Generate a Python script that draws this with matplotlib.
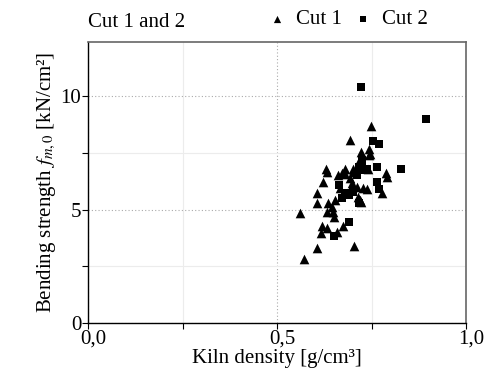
import matplotlib

matplotlib.use("Agg")
import matplotlib.pyplot as plt
import matplotlib.transforms as mtransforms
from matplotlib.ticker import FixedLocator

plt.rcParams["font.family"] = ["Liberation Serif", "DejaVu Serif"]
plt.rcParams["mathtext.fontset"] = "stix"

# Cut 1 (triangles): kiln density [g/cm3], bending strength [kN/cm2]
cut1_density = [
    0.571, 0.606, 0.704, 0.616, 0.619, 0.632, 0.659, 0.675, 0.651, 0.561,
    0.606, 0.632, 0.648, 0.646, 0.635, 0.606, 0.632, 0.622, 0.661, 0.672,
    0.680, 0.701, 0.693, 0.698, 0.712, 0.714, 0.720, 0.722, 0.728, 0.738,
    0.778, 0.788, 0.791, 0.630, 0.680, 0.701, 0.693, 0.749, 0.743, 0.722,
    0.743, 0.720, 0.741, 0.746, 0.667, 0.653,
]
cut1_strength = [
    2.82, 3.30, 3.39, 3.96, 4.27, 4.19, 4.01, 4.27, 4.67, 4.85,
    5.29, 4.89, 4.89, 5.11, 5.29, 5.73, 6.65, 6.21, 6.52, 6.61,
    6.56, 6.65, 6.39, 6.17, 5.99, 5.55, 5.42, 5.33, 5.95, 5.90,
    5.73, 6.61, 6.43, 6.78, 6.78, 6.78, 8.06, 8.68, 7.67, 7.53,
    7.40, 7.22, 6.78, 7.44, 5.95, 5.42,
]

# Cut 2 (squares)
cut2_density = [
    0.722, 0.894, 0.754, 0.770, 0.725, 0.717, 0.765, 0.828, 0.725, 0.738,
    0.765, 0.770, 0.733, 0.664, 0.680, 0.690, 0.701, 0.672, 0.690, 0.651,
    0.717, 0.712,
]
cut2_strength = [
    10.40, 8.99, 8.02, 7.89, 7.18, 6.87, 6.87, 6.78, 6.92, 6.78,
    6.21, 5.90, 6.74, 6.08, 5.73, 5.64, 5.77, 5.51, 4.45, 3.83,
    5.29, 6.52,
]

x_ticks = [0.0, 0.5, 1.0]
x_tick_labels = ["0,0", "0,5", "1,0"]
y_ticks = [0, 5, 10]

fig = plt.figure(figsize=(4.84, 3.75), dpi=100)
ax = fig.add_axes([0.182, 0.139, 0.781, 0.749])

ax.scatter(cut1_density, cut1_strength, marker="^", s=48, color="black",
           linewidths=0, label="Cut 1", zorder=3)
ax.scatter(cut2_density, cut2_strength, marker="s", s=32, color="black",
           linewidths=0, label="Cut 2", zorder=3)

ax.set_xlim(0, 1.0)
ax.set_ylim(0, 12.4)
ax.set_xticks(x_ticks)
ax.set_xticklabels(x_tick_labels)
ax.set_yticks(y_ticks)
ax.xaxis.set_minor_locator(FixedLocator([0.25, 0.75]))
ax.yaxis.set_minor_locator(FixedLocator([2.5, 7.5]))
ax.tick_params(which="both", direction="out", length=4, width=0.8,
               labelsize=15, pad=1)

# x tick labels sit a little right of their ticks in the original
shift = mtransforms.ScaledTranslation(5 / 100, 0, fig.dpi_scale_trans)
for label in ax.get_xticklabels():
    label.set_transform(label.get_transform() + shift)

ax.grid(which="major", color="#aaaaaa", linestyle=(0, (1, 2)), linewidth=0.8)
ax.grid(which="minor", color="#ececec", linestyle="-", linewidth=0.8)
ax.set_axisbelow(True)

for side in ("top", "right"):
    ax.spines[side].set_color("#666666")
    ax.spines[side].set_linewidth(1.2)
for side in ("left", "bottom"):
    ax.spines[side].set_color("black")
    ax.spines[side].set_linewidth(1.0)

ax.set_xlabel("Kiln density [g/cm³]", fontsize=15, labelpad=0)
ax.set_ylabel(r"Bending strength $f_{m,0}$ [kN/cm²]", fontsize=15, labelpad=2)
ax.set_title("Cut 1 and 2", loc="left", fontsize=15, pad=11)

ax.legend(loc="lower right", bbox_to_anchor=(0.92, 1.015), ncol=2,
          frameon=False, fontsize=15, markerscale=0.75, handletextpad=0.4,
          columnspacing=0.5, borderaxespad=0, handlelength=1.0)

fig.savefig("out.png", dpi=100)
plt.close(fig)
